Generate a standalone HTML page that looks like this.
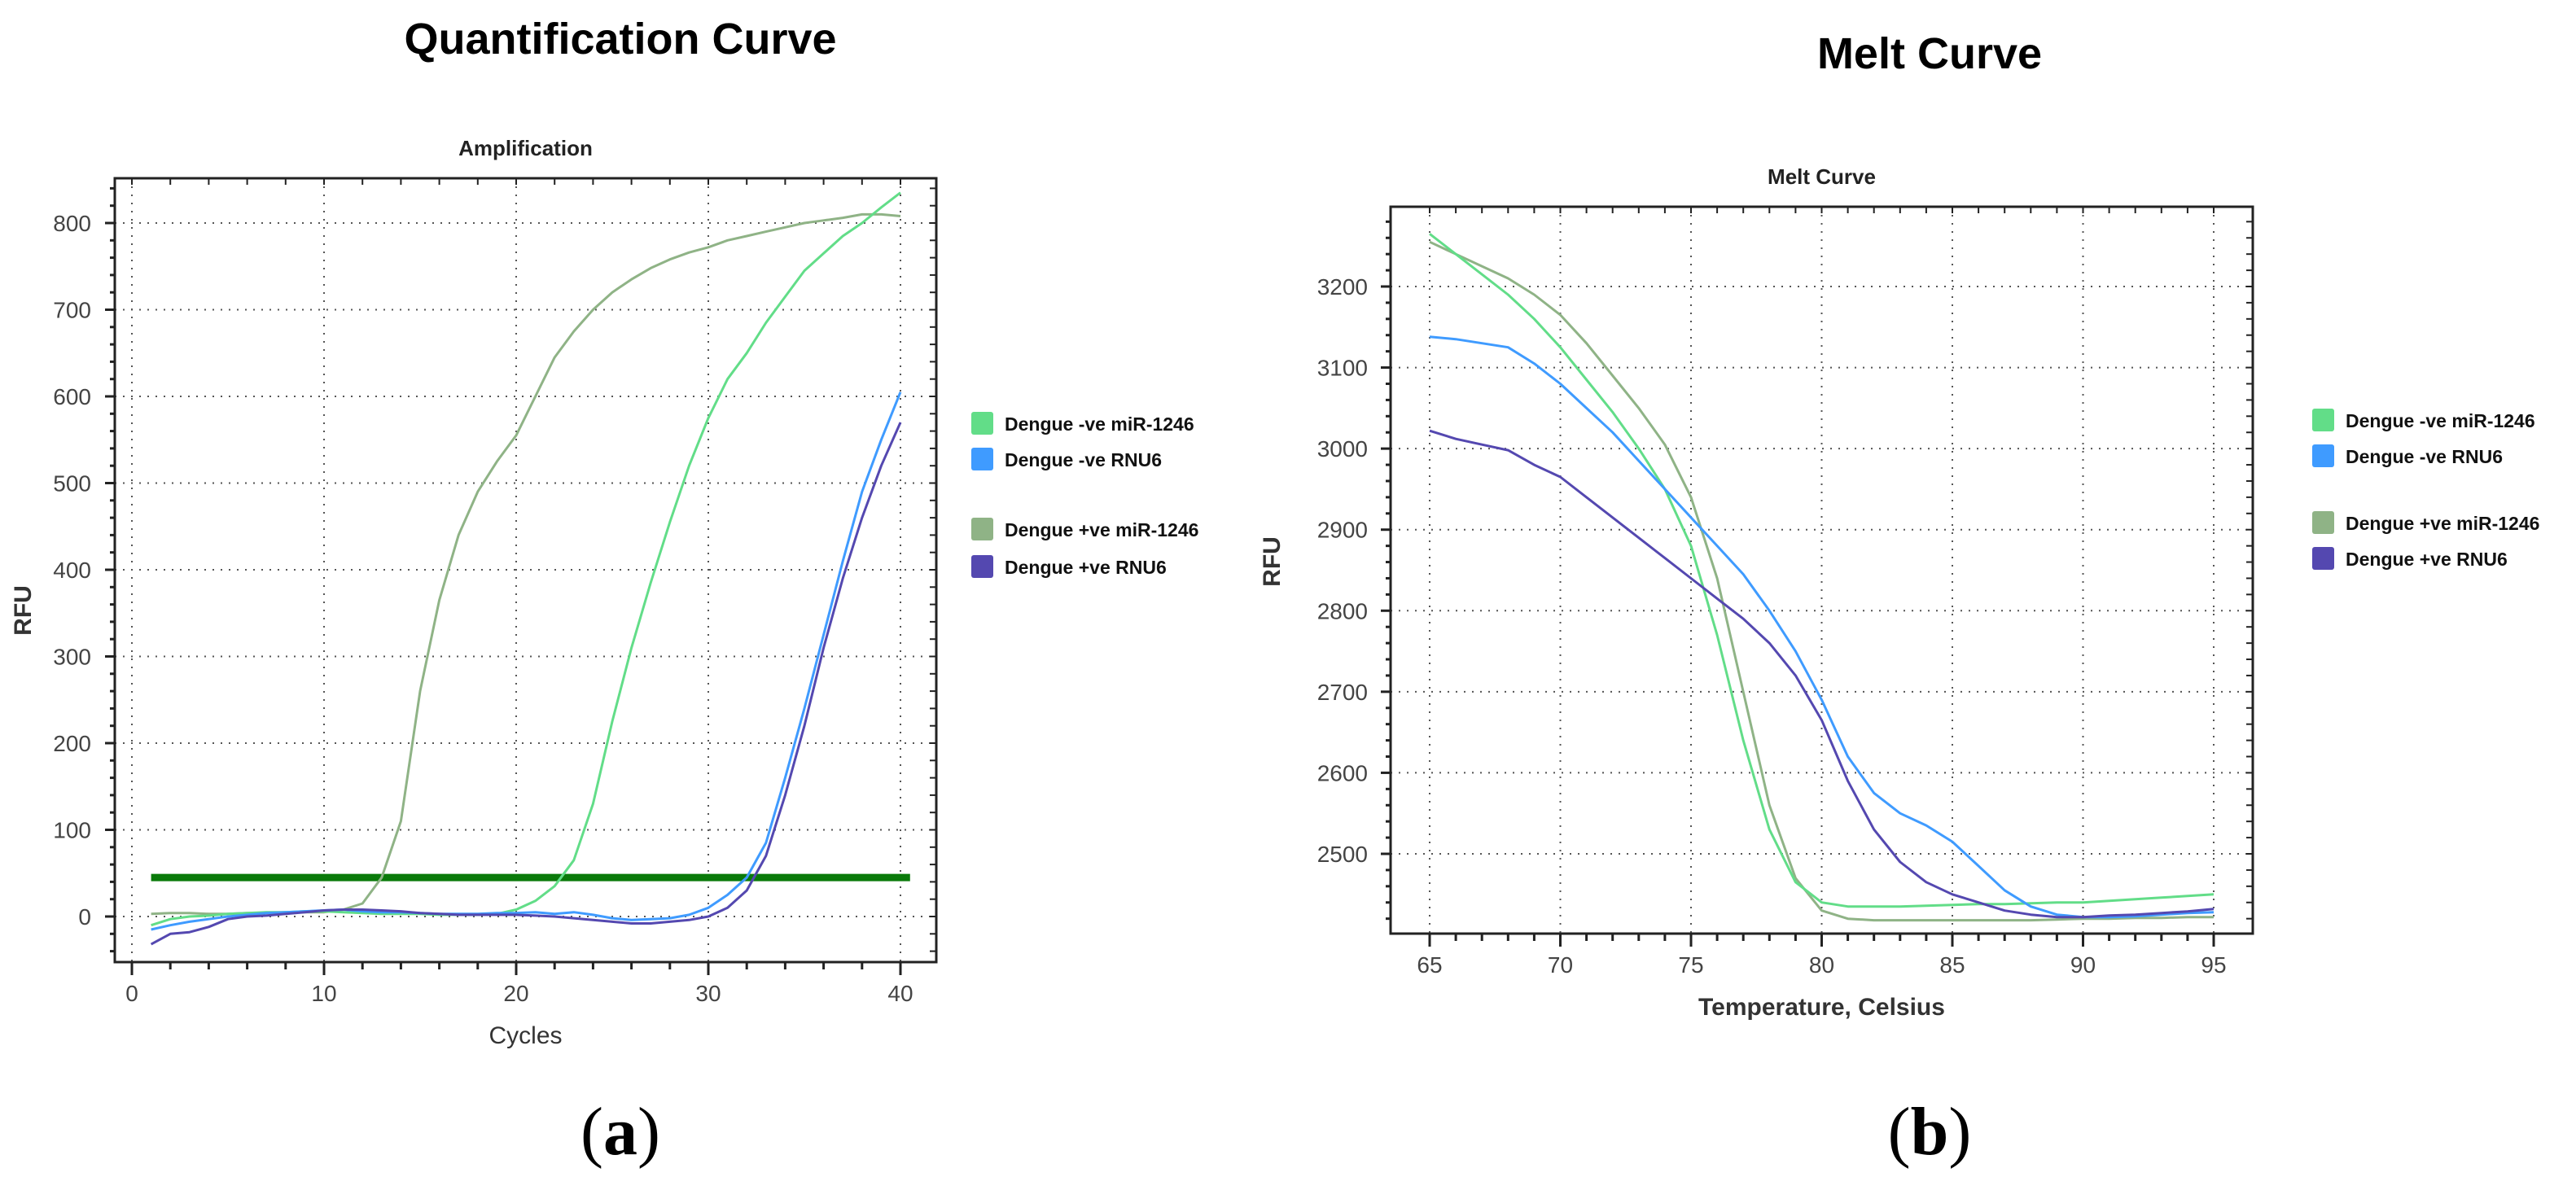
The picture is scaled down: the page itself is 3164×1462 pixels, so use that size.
<!DOCTYPE html>
<html><head><meta charset="utf-8"><style>
body{margin:0;background:#fff}
svg{display:block;font-family:"Liberation Sans",sans-serif}
</style></head><body>
<svg id="s" width="3164" height="1462" viewBox="0 0 3164 1462">
<text x="762" y="66" text-anchor="middle" font-size="54" font-weight="bold">Quantification Curve</text>
<text x="2370" y="84" text-anchor="middle" font-size="54" font-weight="bold">Melt Curve</text>
<text x="762" y="1418" text-anchor="middle" font-size="84" font-family="Liberation Serif,serif">(<tspan font-weight="bold">a</tspan>)</text>
<text x="2370" y="1418" text-anchor="middle" font-size="84" font-family="Liberation Serif,serif">(<tspan font-weight="bold">b</tspan>)</text>
</svg>
<script>
const NS="http://www.w3.org/2000/svg";
const svg=document.getElementById('s');
// ---- Amplification data ----
const ampCycles=[1,2,3,4,5,6,7,8,9,10,11,12,13,14,15,16,17,18,19,20,21,22,23,24,25,26,27,28,29,30,31,32,33,34,35,36,37,38,39,40];
const ampNegMiR=[-10,-3,0,1,3,4,5,5,6,6,5,4,3,3,3,2,2,2,3,8,18,35,65,130,225,310,385,455,520,575,620,650,685,715,745,765,785,800,818,835];
const ampPosMiR=[3,4,4,3,3,4,4,5,5,5,8,15,45,110,260,365,440,490,525,555,600,645,675,700,720,735,748,758,766,772,780,785,790,795,800,803,806,810,810,808];
const ampNegRNU6=[-15,-10,-6,-3,0,2,4,5,6,7,8,6,5,5,4,3,3,3,4,4,5,3,5,2,-2,-4,-3,-2,2,10,25,45,85,160,240,325,410,490,550,605];
const ampPosRNU6=[-32,-20,-18,-12,-3,0,1,3,5,7,8,8,7,6,4,3,2,2,2,2,1,0,-2,-4,-6,-8,-8,-6,-4,0,10,30,70,140,220,310,390,460,520,570];
const ampThreshold=45;
const ampXTicks=[0,10,20,30,40];
const ampYTicks=[0,100,200,300,400,500,600,700,800];
// ---- Melt data ----
const meltTemps=[65,66,67,68,69,70,71,72,73,74,75,76,77,78,79,80,81,82,83,84,85,86,87,88,89,90,91,92,93,94,95];
const meltNegMiR=[3265,3240,3215,3190,3160,3125,3085,3045,3000,2950,2880,2770,2640,2530,2465,2440,2435,2435,2435,2436,2437,2438,2438,2439,2440,2440,2442,2444,2446,2448,2450];
const meltPosMiR=[3255,3240,3225,3210,3190,3165,3130,3090,3050,3005,2940,2840,2700,2560,2470,2430,2420,2418,2418,2418,2418,2418,2418,2418,2419,2420,2420,2421,2421,2422,2422];
const meltNegRNU6=[3138,3135,3130,3125,3105,3080,3050,3020,2985,2950,2915,2880,2845,2800,2750,2690,2620,2575,2550,2535,2515,2485,2455,2435,2425,2422,2422,2423,2425,2427,2428];
const meltPosRNU6=[3022,3012,3005,2998,2980,2965,2940,2915,2890,2865,2840,2815,2790,2760,2720,2665,2590,2530,2490,2465,2450,2440,2430,2425,2422,2422,2424,2425,2427,2429,2432];
const meltXTicks=[65,70,75,80,85,90,95];
const meltYTicks=[2500,2600,2700,2800,2900,3000,3100,3200];
const colors={negMiR:'#62dd88',negRNU6:'#3f9bff',posMiR:'#8fb386',posRNU6:'#5448b0'};
const legendNames=['Dengue -ve miR-1246','Dengue -ve RNU6','Dengue +ve miR-1246','Dengue +ve RNU6'];
const legendColors=[colors.negMiR,colors.negRNU6,colors.posMiR,colors.posRNU6];

function el(tag,attrs,parent){const e=document.createElementNS(NS,tag);for(const k in attrs)e.setAttribute(k,attrs[k]);(parent||svg).appendChild(e);return e;}

function chart(o){
  const g=el('g',{});
  
  
  const X=v=>o.px0+(v-o.x0)*(o.px1-o.px0)/(o.x1-o.x0);
  const Y=v=>o.py0+(v-o.y0)*(o.py1-o.py0)/(o.y1-o.y0);
  o.xt.forEach(t=>{const l=el('line',{x1:X(t),x2:X(t),y1:o.top,y2:o.bottom,stroke:'#555','stroke-width':2,'stroke-dasharray':'2 8'},g);});
  o.yt.forEach(t=>{const l=el('line',{x1:o.left,x2:o.right,y1:Y(t),y2:Y(t),stroke:'#555','stroke-width':2,'stroke-dasharray':'2 8'},g);});
  const xs=(o.xt[1]-o.xt[0])/5;
  for(let v=o.xt[0];v<=o.xt[o.xt.length-1]+1e-6;v+=xs){
    const big=Math.abs((v-o.xt[0])%(o.xt[1]-o.xt[0]))<1e-6;
    el('line',{x1:X(v),x2:X(v),y1:o.bottom,y2:o.bottom+(big?16:9),stroke:'#222','stroke-width':3},g);
    el('line',{x1:X(v),x2:X(v),y1:o.top,y2:o.top+8,stroke:'#222','stroke-width':2},g);
  }
  const ys=(o.yt[1]-o.yt[0])/5;
  for(let v=o.yt[0]-ys*5;v<=o.yt[o.yt.length-1]+ys*5;v+=ys){
    const py=Y(v); if(py<o.top||py>o.bottom)continue;
    const big=Math.abs(((v-o.yt[0])%(o.yt[1]-o.yt[0])))<1e-6;
    el('line',{x1:o.left-(big?12:6),x2:o.left,y1:py,y2:py,stroke:'#222','stroke-width':3},g);
    el('line',{x1:o.right-8,x2:o.right,y1:py,y2:py,stroke:'#222','stroke-width':2},g);
  }
  o.xt.forEach(t=>{const tx=el('text',{x:X(t),y:o.bottom+48,'text-anchor':'middle','font-size':28,fill:'#444'},g);tx.textContent=t;});
  o.yt.forEach(t=>{const tx=el('text',{x:o.ylx,y:Y(t)+10,'text-anchor':'end','font-size':28,fill:'#444'},g);tx.textContent=t;});
  const b=el('rect',{x:o.left,y:o.top,width:o.right-o.left,height:o.bottom-o.top,fill:'none',stroke:'#222','stroke-width':3},g);
  
  if(o.threshold!==undefined){
    const t=el('line',{x1:X(1),x2:X(40.5),y1:Y(o.threshold),y2:Y(o.threshold),stroke:'#0a7a0a','stroke-width':9},g);
    
  }
  o.series.forEach(s=>{
    const d=s.v.map((v,i)=>(i?'L':'M')+X(o.xs[i]).toFixed(1)+' '+Y(v).toFixed(1)).join(' ');
    const p=el('path',{d:d,fill:'none',stroke:s.c,'stroke-width':3,'stroke-linejoin':'round'},g);
    
  });
  const ct=el('text',{x:(o.left+o.right)/2,y:o.top-28,'text-anchor':'middle','font-size':26,'font-weight':'bold',fill:'#222'},g);
  ct.textContent=o.title;
  const xl=el('text',{x:(o.left+o.right)/2,y:o.bottom+100,'text-anchor':'middle','font-size':30,'font-weight':o.xbold?'bold':'normal',fill:'#333'},g);
  xl.textContent=o.xlabel;
  const yl=el('text',{x:o.ylabX,y:o.ylabY,'text-anchor':'middle','font-size':30,'font-weight':'bold',fill:'#333',transform:`rotate(-90 ${o.ylabX} ${o.ylabY})`},g);
  yl.textContent='RFU';
  o.legY.forEach((ly,i)=>{
    const lg=el('g',{},g);
    el('rect',{x:o.legX,y:ly-14,width:27,height:28,rx:3,fill:legendColors[i]},lg);
    const t=el('text',{x:o.legX+41,y:ly+9,'font-size':23,'font-weight':'bold',fill:'#111'},lg);t.textContent=legendNames[i];
  });
}
chart({name:'amplification-chart',title:'Amplification',xlabel:'Cycles',left:141,right:1150,top:219,bottom:1182,
  x0:0,x1:40,px0:162,px1:1106,y0:0,y1:800,py0:1126,py1:274,xt:ampXTicks,yt:ampYTicks,xs:ampCycles,ylx:112,ylabX:38,ylabY:750,threshold:ampThreshold,
  legX:1193,legY:[520,564,650,696],
  series:[{n:'series-pos-mir1246',c:colors.posMiR,v:ampPosMiR},{n:'series-neg-mir1246',c:colors.negMiR,v:ampNegMiR},{n:'series-neg-rnu6',c:colors.negRNU6,v:ampNegRNU6},{n:'series-pos-rnu6',c:colors.posRNU6,v:ampPosRNU6}]});
chart({name:'melt-chart',title:'Melt Curve',xlabel:'Temperature, Celsius',xbold:true,left:1708,right:2767,top:254,bottom:1147,
  x0:65,x1:95,px0:1756,px1:2719,y0:2500,y1:3200,py0:1049,py1:352,xt:meltXTicks,yt:meltYTicks,xs:meltTemps,ylx:1680,ylabX:1572,ylabY:690,
  legX:2840,legY:[516,560,642,686],
  series:[{n:'series-pos-mir1246',c:colors.posMiR,v:meltPosMiR},{n:'series-neg-mir1246',c:colors.negMiR,v:meltNegMiR},{n:'series-neg-rnu6',c:colors.negRNU6,v:meltNegRNU6},{n:'series-pos-rnu6',c:colors.posRNU6,v:meltPosRNU6}]});
</script>
</body></html>
